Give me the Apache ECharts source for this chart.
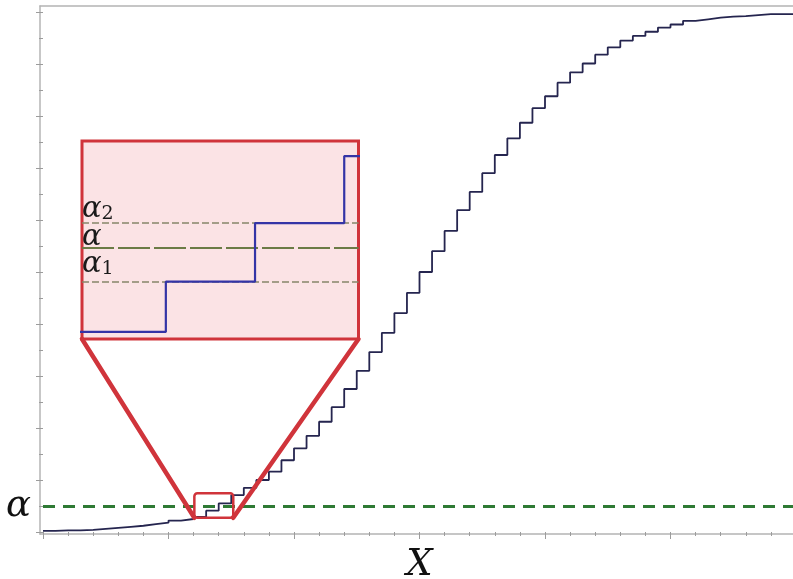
<!DOCTYPE html>
<html>
<head>
<meta charset="utf-8">
<script src="https://cdn.jsdelivr.net/npm/echarts@6/dist/echarts.min.js"></script>
<style>
  html, body { margin: 0; padding: 0; background: #ffffff; }
  #chart { width: 793px; height: 579px; }
</style>
</head>
<body>
<div id="chart"></div>
<script>
// Discrete CDF F(k), k = 0..59; each value holds on [k, k+1)
const cdfValues = [
  0.002, 0.003, 0.003, 0.004, 0.006, 0.008, 0.010, 0.012, 0.015, 0.018,
  0.022, 0.025, 0.029, 0.041, 0.055, 0.071, 0.085, 0.100, 0.116, 0.138,
  0.161, 0.185, 0.212, 0.240, 0.275, 0.310, 0.346, 0.383, 0.421, 0.460,
  0.500, 0.540, 0.579, 0.619, 0.654, 0.690, 0.725, 0.757, 0.787, 0.815,
  0.838, 0.864, 0.884, 0.901, 0.918, 0.932, 0.945, 0.954, 0.962, 0.970,
  0.976, 0.983, 0.986, 0.989, 0.991, 0.992, 0.994, 0.996, 0.996, 0.996
];
// Significance level and the two attainable levels around it
const alphaLevel = 0.049;
const alphaLowIndex = 13;   // alpha_1 = F(13)
const alphaHighIndex = 14;  // alpha_2 = F(14)
// Range shown magnified in the inset
const zoomX = [12.06, 15.16];
const zoomY = [0.0273, 0.0746];
// Axis extents
const xRange = [0, 60];
const yRange = [0, 1];

const stepData = cdfValues.map((v, i) => [i, v]);
stepData.push([cdfValues.length, cdfValues[cdfValues.length - 1]]);

const axisGray = '#b4b4b4';
const tickGray = '#9c9c9c';
const serif = '"DejaVu Serif", "Liberation Serif", serif';
const red = '#d0343b';
const curveColor = '#25254f';
const insetBlue = '#3434a6';

const chart = echarts.init(document.getElementById('chart'), null, { renderer: 'canvas' });

const bare = {
  axisLabel: { show: false },
  splitLine: { show: false },
  axisTick: { show: false }
};
const frameLine = { show: true, lineStyle: { color: axisGray, width: 1.5 } };

const option = {
  animation: false,
  grid: [
    { left: 43, top: 12, width: 753, height: 520, outerBoundsMode: 'none' },
    { left: 40, top: 6, width: 760, height: 528, outerBoundsMode: 'none' },
    { left: 82, top: 141, width: 276.5, height: 198, show: true, outerBoundsMode: 'none',
      backgroundColor: '#fbe3e5', borderColor: red, borderWidth: 3, z: 5 }
  ],
  xAxis: [
    { gridIndex: 0, type: 'value', min: xRange[0], max: xRange[1], interval: 10, offset: 2,
      axisLine: { show: false }, axisLabel: { show: false }, splitLine: { show: false },
      axisTick: { show: true, length: 7, lineStyle: { color: tickGray, width: 1 } },
      minorTick: { show: true, splitNumber: 5, length: 4, lineStyle: { color: tickGray, width: 1 } },
      name: 'X', nameLocation: 'middle', nameGap: 13,
      nameTextStyle: { fontFamily: serif, fontStyle: 'italic', fontSize: 37, color: '#111' } },
    Object.assign({ gridIndex: 1, type: 'value', min: 0, max: 1, position: 'bottom', axisLine: frameLine }, bare),
    Object.assign({ gridIndex: 1, type: 'value', min: 0, max: 1, position: 'top', axisLine: frameLine }, bare),
    { gridIndex: 2, type: 'value', min: zoomX[0], max: zoomX[1], show: false }
  ],
  yAxis: [
    { gridIndex: 0, type: 'value', min: yRange[0], max: yRange[1], interval: 0.1, offset: 3,
      axisLine: { show: false }, axisLabel: { show: false }, splitLine: { show: false },
      axisTick: { show: true, length: 7, lineStyle: { color: tickGray, width: 1 } },
      minorTick: { show: true, splitNumber: 2, length: 4, lineStyle: { color: tickGray, width: 1 } } },
    Object.assign({ gridIndex: 1, type: 'value', min: 0, max: 1, position: 'left', axisLine: frameLine }, bare),
    { gridIndex: 2, type: 'value', min: zoomY[0], max: zoomY[1], show: false }
  ],
  series: [
    // alpha reference line on the main plot
    { type: 'line', xAxisIndex: 0, yAxisIndex: 0, data: [], z: 2, silent: true,
      markLine: {
        symbol: 'none', silent: true, animation: false, precision: 6,
        lineStyle: { color: '#2e7a34', width: 3, type: [12, 8] },
        label: { show: true, position: 'start', formatter: 'α', distance: 12,
          fontFamily: serif, fontStyle: 'italic', fontSize: 37, color: '#111' },
        data: [{ yAxis: alphaLevel }]
      } },
    // CDF staircase
    { type: 'line', xAxisIndex: 0, yAxisIndex: 0, data: stepData, step: 'end',
      showSymbol: false, symbol: 'none', z: 3,
      lineStyle: { color: curveColor, width: 1.8 } },
    // inset reference levels
    { type: 'line', xAxisIndex: 3, yAxisIndex: 2, data: [], z: 6, silent: true,
      markLine: {
        symbol: 'none', silent: true, animation: false, precision: 6,
        label: { show: true, position: 'insideStartTop', distance: [0, 3],
          color: '#1a1a1a', fontFamily: serif,
          rich: {
            a: { fontFamily: serif, fontStyle: 'italic', fontSize: 29, color: '#1a1a1a' },
            s: { fontFamily: serif, fontSize: 19, color: '#1a1a1a', verticalAlign: 'bottom' }
          } },
        data: [
          { yAxis: cdfValues[alphaHighIndex], label: { formatter: '{a|α}{s|2}', distance: [0, -1] },
            lineStyle: { color: '#86866a', width: 1.5, type: [7, 3] } },
          { yAxis: alphaLevel, label: { formatter: '{a|α}', distance: [0, -4] },
            lineStyle: { color: '#6b7b45', width: 1.8, type: [32, 4] } },
          { yAxis: cdfValues[alphaLowIndex], label: { formatter: '{a|α}{s|1}', distance: [0, 3] },
            lineStyle: { color: '#86866a', width: 1.5, type: [7, 3] } }
        ]
      } },
    // magnified staircase
    { type: 'line', xAxisIndex: 3, yAxisIndex: 2, data: stepData, step: 'end',
      showSymbol: false, symbol: 'none', z: 7, clip: true,
      lineStyle: { color: insetBlue, width: 2.2 } }
  ]
};

chart.setOption(option);

// Zoom box on the main plot and the connectors to the inset
const boxBL = chart.convertToPixel({ gridIndex: 0 }, [zoomX[0], zoomY[0]]);
const boxTR = chart.convertToPixel({ gridIndex: 0 }, [zoomX[1], zoomY[1]]);
const insetBL = chart.convertToPixel({ gridIndex: 2 }, [zoomX[0], zoomY[0]]);
const insetBR = chart.convertToPixel({ gridIndex: 2 }, [zoomX[1], zoomY[0]]);

chart.setOption({
  graphic: [
    { type: 'line', z: 50,
      shape: { x1: insetBL[0], y1: insetBL[1], x2: boxBL[0], y2: boxBL[1] },
      style: { stroke: red, lineWidth: 4.5, lineCap: 'round' } },
    { type: 'line', z: 50,
      shape: { x1: insetBR[0], y1: insetBR[1], x2: boxTR[0], y2: boxBL[1] },
      style: { stroke: red, lineWidth: 4.5, lineCap: 'round' } },
    { type: 'rect', z: 50,
      shape: { x: boxBL[0], y: boxTR[1], width: boxTR[0] - boxBL[0], height: boxBL[1] - boxTR[1], r: 3 },
      style: { fill: 'none', stroke: red, lineWidth: 2.5 } }
  ]
});
</script>
</body>
</html>
